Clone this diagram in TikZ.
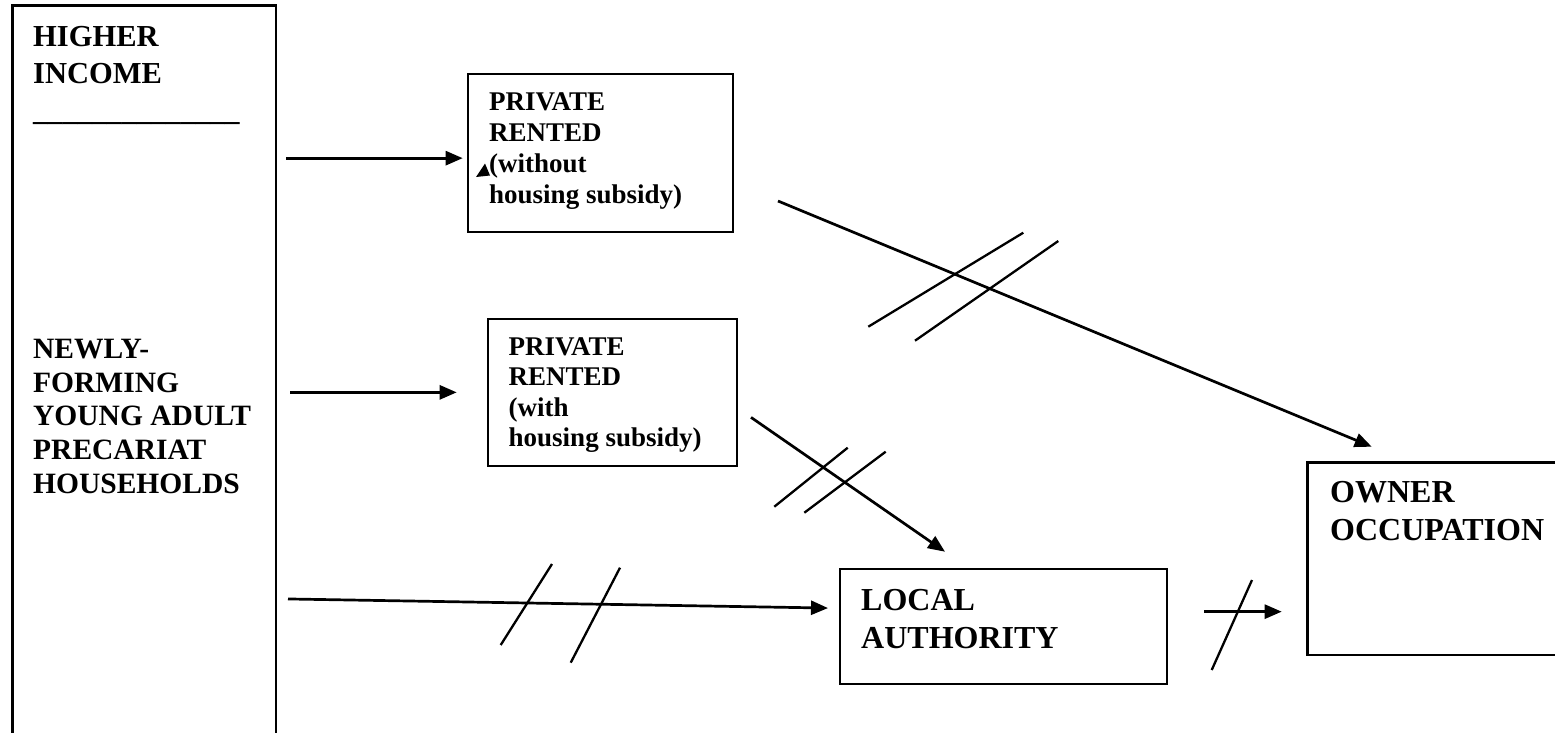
\documentclass[tikz,border=0pt]{standalone}
\usepackage{fontspec}
\setmainfont{Liberation Serif}
\usetikzlibrary{arrows.meta,calc}

\begin{document}
\begin{tikzpicture}[x=1pt,y=-1pt,
    box/.style={rectangle,draw,line width=2.2pt,anchor=north west,inner sep=0pt,outer sep=0pt},
    lbl/.style={anchor=base west,inner sep=0pt,font=\bfseries},
    arr/.style={line width=2.7pt,-{Triangle[length=17pt,width=14pt]}},
    hash/.style={line width=2.3pt}]
    \useasboundingbox (0,0) rectangle (1555,732);
    \clip (0,0) rectangle (1555,732);

    % boxes
    \node[box,minimum width=263.5pt,minimum height=745pt] (src) at (12.5,5.5) {};
    \node[box,minimum width=265pt,minimum height=158.3pt] (pr1) at (467.7,74) {};
    \node[box,minimum width=249pt,minimum height=146.7pt] (pr2) at (487.7,319) {};
    \node[box,minimum width=326.7pt,minimum height=114.7pt] (la) at (840,569.3) {};
    \node[box,minimum width=300pt,minimum height=192.5pt] (oo) at (1307.5,462.5) {};

    % texts
    \node[lbl] (higher) at (33,46.7) {\fontsize{30.5}{36.6}\selectfont\parbox[t]{230pt}{HIGHER\\INCOME}};
    \node[lbl] (rule) at (33,120) {\fontsize{29.5}{36}\selectfont\_\_\_\_\_\_\_\_\_\_\_\_\_\_};
    \node[lbl] (newly) at (33,358.3) {\fontsize{29.5}{33.7}\selectfont\parbox[t]{240pt}{NEWLY-\\FORMING\\YOUNG ADULT\\PRECARIAT\\HOUSEHOLDS}};
    \node[lbl] (pr1txt) at (489,110) {\fontsize{27}{31}\selectfont\parbox[t]{240pt}{PRIVATE\\RENTED\\(without\\housing subsidy)}};
    \node[lbl] (pr2txt) at (508.5,355) {\fontsize{27}{30.6}\selectfont\parbox[t]{225pt}{PRIVATE\\RENTED\\(with\\housing subsidy)}};
    \node[lbl] (latxt) at (861,610.7) {\fontsize{32}{37.7}\selectfont\parbox[t]{290pt}{LOCAL\\AUTHORITY}};
    \node[lbl] (ootxt) at (1330,502.7) {\fontsize{32}{37.3}\selectfont\parbox[t]{225pt}{OWNER\\OCCUPATION}};

    % connectors
    \draw[arr] ($(src.east |- pr1.west)+(10,5)$) -- ($(pr1.west)+(-5,5)$);
    \draw[arr] ($(src.east |- pr2.west)+(14,0)$) -- ($(pr2.west)+(-31,0)$);
    \draw[arr] ($(src.east |- la.west)+(12,-27.7)$) -- ($(la.west)+(-12,-18.6)$);
    \draw[arr] ($(pr1.south east)+(45.3,-31.3)$) -- ($(oo.north west)+(64.2,-15.8)$);
    \draw[arr] ($(pr2.east)+(14.3,25)$) -- ($(la.north west)+(105,-17.6)$);
    \draw[arr] ($(la.east)+(37.3,-15)$) -- ($(oo.west |- la.east)+(-25.8,-15)$);

    % hash marks
    \draw[hash] (500.7,645) -- (552,564);
    \draw[hash] (570.7,662.7) -- (620,567.7);
    \draw[hash] (868.3,326.7) -- (1023.3,232.7);
    \draw[hash] (915,340.7) -- (1058.3,241);
    \draw[hash] (774.3,506.7) -- (847.7,447.7);
    \draw[hash] (804.3,512.7) -- (885.7,451.7);
    \draw[hash] (1211.7,670) -- (1252,580);

    % stray tip
    \fill (476,177) -- (485,163.5) -- (490,175.5) -- cycle;
\end{tikzpicture}
\end{document}
